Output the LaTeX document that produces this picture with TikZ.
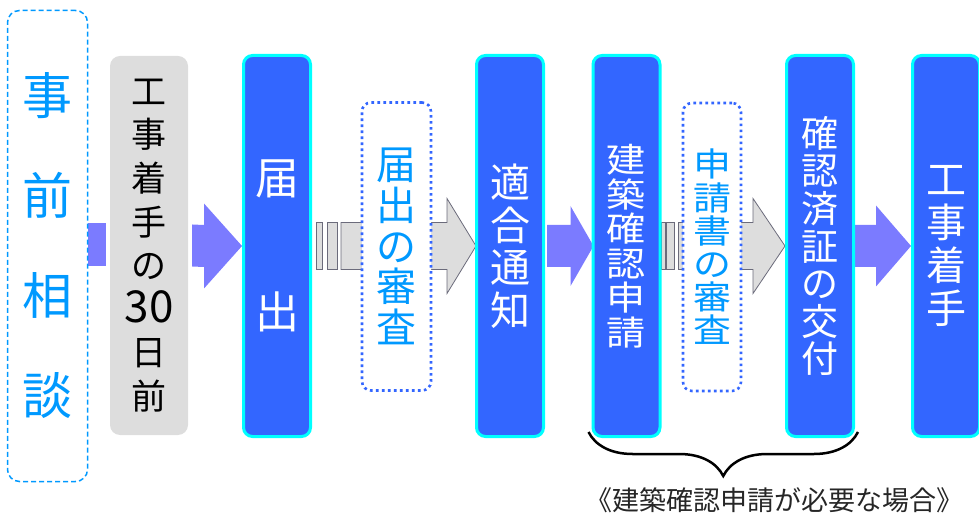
\documentclass[tikz,border=0pt]{standalone}
\usepackage{fontspec}
\newfontfamily\jpfont{Noto Sans CJK JP}
\newfontfamily\jpwide[FakeStretch=1.15]{Noto Sans CJK JP}
\usetikzlibrary{calc,decorations.pathreplacing}
\pgfdeclarelayer{background}
\pgfsetlayers{background,main}
\setlength{\lineskiplimit}{-100pt}
\definecolor{boxblue}{HTML}{3366FF}
\definecolor{edgecyan}{HTML}{00FFFF}
\definecolor{textblue}{HTML}{0099FF}
\definecolor{arrowpurple}{HTML}{7B7BFF}
\definecolor{boxgray}{HTML}{DDDDDD}
\definecolor{edgegray}{HTML}{6B6B7B}
\tikzset{
  tate/.style 2 args={font=\jpfont\fontsize{#1}{#2}\selectfont, align=center, inner sep=0pt},
  tatewide/.style 2 args={font=\jpwide\fontsize{#1}{#2}\selectfont, align=center, inner sep=0pt},
  stepbox/.style={draw=edgecyan, line width=3pt, fill=boxblue, rounded corners=9pt,
    text=white, minimum width=67pt, minimum height=381pt},
  checkbox/.style={draw=boxblue, line width=2.6pt, dash pattern=on 2.6pt off 3.4pt, fill=white,
    rounded corners=9pt, text=textblue, minimum height=288pt},
  grayarrow/.style={fill=boxgray, draw=edgegray, line width=0.8pt},
}
% start, tip, head length, head half height
\newcommand{\fatarrow}[4]{%
  \fill[arrowpurple] ($(#1)+(0,21)$) -- ($(#2)+(-#3,21)$) -- ($(#2)+(-#3,#4)$) -- (#2)
    -- ($(#2)+(-#3,-#4)$) -- ($(#2)+(-#3,-21)$) -- ($(#1)+(0,-21)$) -- cycle;}
\begin{document}
\begin{tikzpicture}[x=1pt, y=1pt]
\useasboundingbox (0,0) rectangle (979,522);

\node[tate={50}{100}, draw=textblue, line width=1.5pt, dash pattern=on 5pt off 3pt,
  rounded corners=12pt, text=textblue, minimum width=80pt, minimum height=471pt]
  (soudan) at (47.5,276) {事\\前\\相\\談};
\node[tate={35}{43.6}, fill=boxgray, rounded corners=10pt, minimum width=78pt, minimum height=379pt]
  (mae30) at (149,276.5) {工\\事\\着\\手\\の\\{\fontsize{44}{43.6}\selectfont 30}\\日\\前};
\node[stepbox, tate={44}{134}] (todoke) at (277,276) {届\\出};
\node[stepbox, tate={40}{42.5}] (tekigo) at (510,276) {適\\合\\通\\知};
\node[stepbox, tatewide={34}{34.5}] (shinsei) at (626.5,276) {建\\築\\確\\認\\申\\請};
\node[stepbox, tate={37}{37.6}] (kofu) at (820,276) {確\\認\\済\\証\\の\\交\\付};
\node[stepbox, tate={40}{43}] (chakushu) at (946,276) {工\\事\\着\\手};

\begin{pgfonlayer}{background}
\fill[arrowpurple] (soudan.east |- 0,255.5) rectangle ([xshift=-4pt]mae30.west |- 0,298.5);
\fatarrow{[xshift=4pt]mae30.east}{todoke.west}{38}{42.5}
\fatarrow{[xshift=2pt]tekigo.east}{[xshift=2pt]shinsei.west}{23}{40}
\fatarrow{kofu.east}{chakushu.west}{35}{40.5}
\draw[grayarrow] ([xshift=4pt]todoke.east |- 0,252.5) rectangle ([xshift=10pt]todoke.east |- 0,299.5);
\draw[grayarrow] ([xshift=15pt]todoke.east |- 0,252.5) rectangle ([xshift=25pt]todoke.east |- 0,299.5);
\draw[grayarrow] ($(todoke.east)+(29,23.5)$) -- ($(tekigo.west)+(-28,23.5)$) -- ($(tekigo.west)+(-28,47.5)$)
  -- ([xshift=1pt]tekigo.west) -- ($(tekigo.west)+(-28,-47.5)$) -- ($(tekigo.west)+(-28,-23.5)$)
  -- ($(todoke.east)+(29,-23.5)$) -- cycle;
\draw[grayarrow] (shinsei.east |- 0,252.5) rectangle ([xshift=4pt]shinsei.east |- 0,299.5);
\draw[grayarrow] ([xshift=5pt]shinsei.east |- 0,252.5) rectangle ([xshift=13pt]shinsei.east |- 0,299.5);
\draw[grayarrow] ($(shinsei.east)+(17,23.5)$) -- ($(kofu.west)+(-32,23.5)$) -- ($(kofu.west)+(-32,47.5)$)
  -- (kofu.west) -- ($(kofu.west)+(-32,-47.5)$) -- ($(kofu.west)+(-32,-23.5)$)
  -- ($(shinsei.east)+(17,-23.5)$) -- cycle;
\end{pgfonlayer}

\node[checkbox, tate={40}{40.6}, minimum width=69pt] (shinsa1) at (396.5,275.5) {届\\出\\の\\審\\査};
\node[checkbox, tatewide={33}{33.2}, minimum width=58pt] (shinsa2) at (712,275) {申\\請\\書\\の\\審\\査};

\draw[decorate, decoration={brace, amplitude=44pt, mirror}, line width=2.5pt]
  ($(shinsei.south west)+(-3,6)$) -- ($(kofu.south east)+(3,6)$);
\node[font=\jpfont\fontsize{27}{27}\selectfont, text=black!85, inner sep=0pt]
  (jouken) at (774,22) {《建築確認申請が必要な場合》};
\end{tikzpicture}
\end{document}
